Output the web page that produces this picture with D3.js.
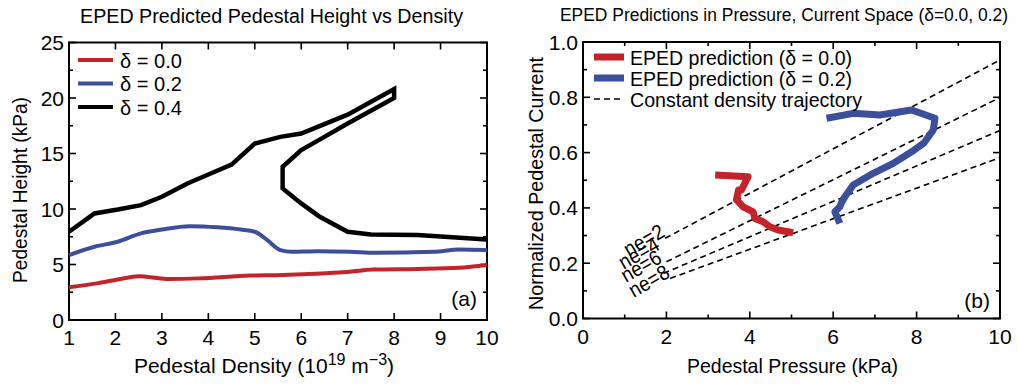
<!DOCTYPE html>
<html>
<head>
<meta charset="utf-8">
<script src="https://cdn.jsdelivr.net/npm/d3@7"></script>
<style>
  body { margin: 0; background: #fff; }
  svg { display: block; font-family: "Liberation Sans", Arial, sans-serif; }
  .frame { fill: none; stroke: #000; stroke-width: 2; }
  .tick-line { stroke: #000; stroke-width: 1.6; }
</style>
</head>
<body>
<svg width="1018" height="385"></svg>
<script>
"use strict";

// ---- panel (a): pedestal height vs density ----
const densTicks = [1, 2, 3, 4, 5, 6, 7, 8, 9, 10];
const heightTicks = [0, 5, 10, 15, 20, 25];

const d00_n = [1, 1.6, 2.05, 2.5, 3.1, 3.8, 4.9, 5.6, 6.7, 7.05, 7.55, 8.5, 9.4, 10];
const d00_p = [2.95, 3.3, 3.65, 3.95, 3.7, 3.75, 4.0, 4.05, 4.25, 4.35, 4.55, 4.6, 4.7, 4.95];

const d02_n = [1, 1.55, 2.05, 2.55, 3.0, 3.6, 4.2, 4.7, 5.0, 5.27, 5.55, 5.8, 6.35, 7.05, 7.6, 8.85, 9.4, 10];
const d02_p = [5.85, 6.6, 7.05, 7.8, 8.15, 8.45, 8.35, 8.15, 7.95, 7.2, 6.3, 6.15, 6.2, 6.15, 6.05, 6.15, 6.35, 6.3];

// delta = 0.4 folds back on itself, points in drawing order
const d04_n = [1, 1.55, 2.05, 2.55, 3.0, 3.55, 4.05, 4.5, 5.0, 5.55, 6.0, 6.5, 7.0, 8.0, 8.0,
               7.0, 6.5, 6.0, 5.6, 5.6, 6.0, 6.4, 7.0, 7.5, 8.5, 10];
const d04_p = [7.95, 9.6, 9.95, 10.35, 11.1, 12.3, 13.2, 14.0, 15.9, 16.5, 16.8, 17.65, 18.5, 20.8, 20.0,
               17.7, 16.5, 15.3, 13.8, 11.85, 10.5, 9.3, 7.95, 7.7, 7.65, 7.25];

// ---- panel (b): pedestal current vs pressure ----
const presTicks = [0, 2, 4, 6, 8, 10];
const currTicks = [0.0, 0.2, 0.4, 0.6, 0.8, 1.0];

const b00_p = [3.17, 3.96, 3.8, 3.73, 3.68, 3.84, 4.08, 4.12, 4.32, 4.48, 4.68, 5.04];
const b00_j = [0.519, 0.513, 0.465, 0.465, 0.43, 0.404, 0.386, 0.362, 0.35, 0.332, 0.32, 0.31];

const b02_p = [5.84, 6.48, 7.12, 7.88, 8.44, 8.4, 8.17, 7.88, 7.44, 6.96, 6.48, 6.28, 6.2, 6.16, 6.04, 6.16];
const b02_j = [0.724, 0.742, 0.736, 0.754, 0.724, 0.682, 0.634, 0.603, 0.561, 0.525, 0.483, 0.44, 0.42, 0.404, 0.386, 0.344];

// constant density trajectories: start and end points
const neLabels = ["ne=2", "ne=4", "ne=6", "ne=8"];
const ne_p0 = [1.97, 2.0, 1.93, 2.09];
const ne_j0 = [0.29, 0.205, 0.163, 0.145];
const ne_p1 = [10, 10, 10, 10];
const ne_j1 = [0.935, 0.799, 0.68, 0.582];
// where each label's baseline starts
const neLab_p = [1.1, 0.98, 1.03, 1.22];
const neLab_j = [0.222, 0.175, 0.128, 0.074];

const RED = "#c4232b", BLUE = "#3b4f9b";

const svg = d3.select("svg");

function frameAxes(g, x, y, xMajor, xMinor, yMajor, yMinor, xFmt, yFmt) {
  const [x0, x1] = x.range(), [y0, y1] = y.range();
  const majLen = 7, minLen = 4;
  // x ticks, bottom + top, inward
  xMinor.forEach(v => {
    const len = xMajor.includes(v) ? majLen : minLen;
    g.append("line").attr("class", "tick-line")
      .attr("x1", x(v)).attr("x2", x(v)).attr("y1", y0).attr("y2", y0 - len);
    g.append("line").attr("class", "tick-line")
      .attr("x1", x(v)).attr("x2", x(v)).attr("y1", y1).attr("y2", y1 + len);
  });
  yMinor.forEach(v => {
    const len = yMajor.some(m => Math.abs(m - v) < 1e-9) ? majLen : minLen;
    g.append("line").attr("class", "tick-line")
      .attr("x1", x0).attr("x2", x0 + len).attr("y1", y(v)).attr("y2", y(v));
    g.append("line").attr("class", "tick-line")
      .attr("x1", x1).attr("x2", x1 - len).attr("y1", y(v)).attr("y2", y(v));
  });
  g.append("rect").attr("class", "frame")
    .attr("x", x0).attr("y", y1).attr("width", x1 - x0).attr("height", y0 - y1);

  g.selectAll(null).data(xMajor).enter().append("text")
    .attr("x", d => x(d)).attr("y", y0 + 25)
    .attr("text-anchor", "middle").attr("font-size", 21)
    .text(xFmt);
  g.selectAll(null).data(yMajor).enter().append("text")
    .attr("x", x0 - 5).attr("y", d => y(d) + 7.5)
    .attr("text-anchor", "end").attr("font-size", 21)
    .text(yFmt);
}

// squeeze text to the width it has in the original (narrow face)
function fit(sel, w) {
  return sel.attr("textLength", w).attr("lengthAdjust", "spacingAndGlyphs");
}

// ===== panel (a) =====
const xa = d3.scaleLinear().domain([1, 10]).range([69, 487]);
const ya = d3.scaleLinear().domain([0, 25]).range([320, 42.5]);
const ga = svg.append("g");

frameAxes(ga, xa, ya, densTicks, densTicks, heightTicks, d3.range(0, 25.01, 2.5),
  d => d, d => d);

const lineA = d3.line().x(d => xa(d[0])).y(d => ya(d[1])).curve(d3.curveLinear);
const smoothA = d3.line().x(d => xa(d[0])).y(d => ya(d[1])).curve(d3.curveMonotoneX);
const zip = (a, b) => a.map((v, i) => [v, b[i]]);

ga.append("path").datum(zip(d00_n, d00_p)).attr("d", smoothA)
  .attr("fill", "none").attr("stroke", RED).attr("stroke-width", 4);
ga.append("path").datum(zip(d02_n, d02_p)).attr("d", smoothA)
  .attr("fill", "none").attr("stroke", BLUE).attr("stroke-width", 4);
ga.append("path").datum(zip(d04_n, d04_p)).attr("d", lineA)
  .attr("fill", "none").attr("stroke", "#000").attr("stroke-width", 4.5)
  .attr("stroke-linejoin", "miter");

// legend (a)
const legA = [["δ = 0.0", RED], ["δ = 0.2", BLUE], ["δ = 0.4", "#000"]];
legA.forEach(([t, c], i) => {
  const yy = 60 + i * 23.5;
  ga.append("line").attr("x1", 78).attr("x2", 113).attr("y1", yy).attr("y2", yy)
    .attr("stroke", c).attr("stroke-width", 4);
  fit(ga.append("text").attr("x", 120).attr("y", yy + 7.5).attr("font-size", 21).text(t), 62);
});

ga.append("text").attr("x", 477).attr("y", 306).attr("text-anchor", "end")
  .attr("font-size", 21).text("(a)");

fit(ga.append("text").attr("x", 80).attr("y", 23)
  .attr("font-size", 20).text("EPED Predicted Pedestal Height vs Density"), 383);

const xla = ga.append("text").attr("x", 264).attr("y", 373).attr("text-anchor", "middle")
  .attr("font-size", 21);
xla.append("tspan").text("Pedestal Density (10");
xla.append("tspan").attr("dy", -8).attr("font-size", 16).text("19");
xla.append("tspan").attr("dy", 8).text(" m");
xla.append("tspan").attr("dy", -8).attr("font-size", 16).text("−3");
xla.append("tspan").attr("dy", 8).text(")");

fit(ga.append("text").attr("transform", "translate(27,283) rotate(-90)")
  .attr("font-size", 21).text("Pedestal Height (kPa)"), 186);

// ===== panel (b) =====
const xb = d3.scaleLinear().domain([0, 10]).range([583, 1000]);
const yb = d3.scaleLinear().domain([0, 1]).range([318.5, 42]);
const gb = svg.append("g");

frameAxes(gb, xb, yb, presTicks, d3.range(0, 10.01, 1), currTicks, d3.range(0, 1.001, 0.1),
  d => d, d => d.toFixed(1));

// dashed trajectories
neLabels.forEach((lab, i) => {
  gb.append("line")
    .attr("x1", xb(ne_p0[i])).attr("y1", yb(ne_j0[i]))
    .attr("x2", xb(ne_p1[i])).attr("y2", yb(ne_j1[i]))
    .attr("stroke", "#000").attr("stroke-width", 1.6).attr("stroke-dasharray", "6,4");
  fit(gb.append("text")
    .attr("transform", `translate(${xb(neLab_p[i])},${yb(neLab_j[i])}) rotate(-30)`)
    .attr("font-size", 21).text(lab), 43);
});

const lineB = d3.line().x(d => xb(d[0])).y(d => yb(d[1]));
gb.append("path").datum(zip(b00_p, b00_j)).attr("d", lineB)
  .attr("fill", "none").attr("stroke", RED).attr("stroke-width", 7).attr("stroke-linejoin", "round");
gb.append("path").datum(zip(b02_p, b02_j)).attr("d", lineB)
  .attr("fill", "none").attr("stroke", BLUE).attr("stroke-width", 7).attr("stroke-linejoin", "round");

// legend (b)
const legB = [["EPED prediction (δ = 0.0)", RED, 7, null, 222],
              ["EPED prediction (δ = 0.2)", BLUE, 7, null, 222],
              ["Constant density trajectory", "#000", 1.6, "6,4", 232]];
legB.forEach(([t, c, w, dash, tw], i) => {
  const yy = 57 + i * 21;
  gb.append("line").attr("x1", 594).attr("x2", 624).attr("y1", yy).attr("y2", yy)
    .attr("stroke", c).attr("stroke-width", w).attr("stroke-dasharray", dash);
  fit(gb.append("text").attr("x", 630).attr("y", yy + 7.5).attr("font-size", 21).text(t), tw);
});

gb.append("text").attr("x", 990).attr("y", 308).attr("text-anchor", "end")
  .attr("font-size", 21).text("(b)");

fit(gb.append("text").attr("x", 560).attr("y", 21)
  .attr("font-size", 17.5).text("EPED Predictions in Pressure, Current Space (δ=0.0, 0.2)"), 448);

fit(gb.append("text").attr("x", 687).attr("y", 373)
  .attr("font-size", 21).text("Pedestal Pressure (kPa)"), 211);

fit(gb.append("text").attr("transform", "translate(543,310) rotate(-90)")
  .attr("font-size", 21).text("Normalized Pedestal Current"), 253);
</script>
</body>
</html>
